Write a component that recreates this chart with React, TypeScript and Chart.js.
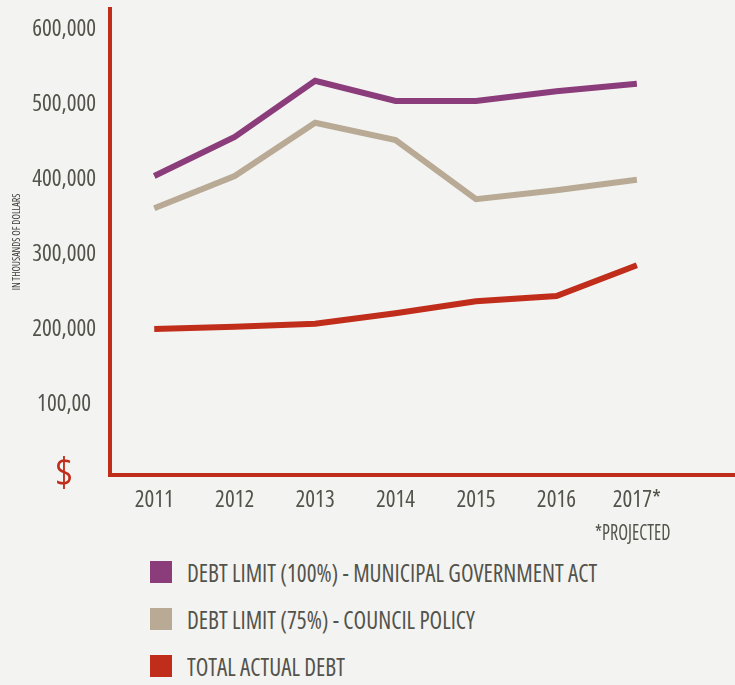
import React, { useEffect, useRef } from "react";
import { Chart, registerables } from "chart.js";

Chart.register(...registerables);

const years = [2011, 2012, 2013, 2014, 2015, 2016, 2017];
const debtLimit100 = [404000, 456000, 531000, 504000, 504000, 517000, 527000];
const debtLimit75 = [361000, 404000, 475000, 452000, 373000, 385000, 399000];
const totalDebt = [200000, 203000, 207000, 221000, 237000, 244000, 285000];
const yTickValues = [100000, 200000, 300000, 400000, 500000, 600000];
const yTickLabels: Record<number, string> = {
  100000: "100,00",
  200000: "200,000",
  300000: "300,000",
  400000: "400,000",
  500000: "500,000",
  600000: "600,000",
};
const seriesNames = [
  "DEBT LIMIT (100%) - MUNICIPAL GOVERNMENT ACT",
  "DEBT LIMIT (75%) - COUNCIL POLICY",
  "TOTAL ACTUAL DEBT",
];
const projectedNote = "*PROJECTED";
const yTitle = "IN THOUSANDS OF DOLLARS";

const PURPLE = "#8b3c7b";
const BEIGE = "#b8aa94";
const RED = "#c12d1b";
const TEXT = "#53534c";
const BG = "#f3f3f1";
const FAMILY = "'Open Sans', sans-serif";
const COND = "500 ultra-condensed";

const Y_MIN = 5333;
const Y_MAX = 626667;

export default function App() {
  const ref = useRef<HTMLCanvasElement | null>(null);

  useEffect(() => {
    if (!ref.current) return;
    const mk = (vals: number[]) => years.map((x, i) => ({ x, y: vals[i] }));
    const chart = new Chart(ref.current, {
      type: "line",
      data: {
        datasets: [
          { label: seriesNames[0], data: mk(debtLimit100), borderColor: PURPLE, backgroundColor: PURPLE },
          { label: seriesNames[1], data: mk(debtLimit75), borderColor: BEIGE, backgroundColor: BEIGE },
          { label: seriesNames[2], data: mk(totalDebt), borderColor: RED, backgroundColor: RED },
        ].map((d) => ({
          ...d,
          borderWidth: 6,
          pointRadius: 0,
          pointHoverRadius: 0,
          tension: 0,
          borderCapStyle: "butt" as const,
          borderJoinStyle: "miter" as const,
          fill: false,
        })),
      },
      options: {
        responsive: false,
        animation: false,
        events: [],
        layout: { padding: { top: 9, left: 0, right: 0, bottom: 0 } },
        plugins: {
          legend: { display: false },
          tooltip: { enabled: false },
        },
        scales: {
          x: {
            type: "linear",
            min: 2010.45,
            max: 2018.22,
            grid: { display: false, drawTicks: false },
            border: { display: true, color: RED, width: 4 },
            afterBuildTicks: (s: any) => {
              s.ticks = years.map((v) => ({ value: v }));
            },
            afterFit: (s: any) => {
              s.height = 75;
              s.paddingLeft = 0;
              s.paddingRight = 0;
            },
            ticks: {
              padding: 12,
              color: TEXT,
              font: { family: FAMILY, size: 23, weight: COND as any },
              maxRotation: 0,
              autoSkip: false,
              callback: (v: any) => (v === 2017 ? "2017*" : String(v)),
            },
          },
          y: {
            type: "linear",
            min: Y_MIN,
            max: Y_MAX,
            grid: { display: false, drawTicks: false },
            border: { display: true, color: RED, width: 4 },
            afterBuildTicks: (s: any) => {
              s.ticks = [{ value: Y_MIN }, ...yTickValues.map((v) => ({ value: v }))];
            },
            afterFit: (s: any) => {
              s.width = 110;
              s.paddingTop = 0;
              s.paddingBottom = 0;
            },
            title: {
              display: true,
              text: yTitle,
              color: "#3c3c36",
              font: { family: FAMILY, size: 10, weight: COND as any },
              padding: { top: 11, bottom: 0 },
            },
            ticks: {
              padding: 14,
              crossAlign: "center",
              autoSkip: false,
              color: (ctx: any) => (ctx.tick && ctx.tick.value < 50000 ? RED : TEXT),
              font: (ctx: any) =>
                ctx.tick && ctx.tick.value < 50000
                  ? { family: FAMILY, size: 40, weight: "400 ultra-condensed" as any }
                  : { family: FAMILY, size: 23, weight: COND as any },
              callback: (v: any) => (v < 50000 ? "$" : yTickLabels[v] ?? String(v)),
            },
          },
        },
      },
    });
    return () => chart.destroy();
  }, []);

  const colors = [PURPLE, BEIGE, RED];

  return (
    <div
      style={{
        position: "absolute",
        left: 0,
        top: 0,
        width: 735,
        height: 685,
        background: BG,
        overflow: "hidden",
      }}
    >
      <canvas ref={ref} width={735} height={550} style={{ display: "block", width: 735, height: 550 }} />
      <div
        style={{
          position: "absolute",
          left: 595,
          top: 518,
          fontFamily: FAMILY,
          fontStretch: "75%",
          fontWeight: 500,
          fontSize: 21,
          lineHeight: "28px",
          color: TEXT,
          whiteSpace: "nowrap",
          transform: "scaleX(0.86)",
          transformOrigin: "left center",
        }}
      >
        {projectedNote}
      </div>
      {seriesNames.map((name, i) => (
        <div
          key={name}
          style={{
            position: "absolute",
            left: 150,
            top: 561 + i * 47,
            height: 22,
            display: "flex",
            alignItems: "center",
          }}
        >
          <div style={{ width: 22, height: 22, background: colors[i], flex: "none" }} />
          <span
            style={{
              marginLeft: 15,
              fontFamily: FAMILY,
              fontStretch: "75%",
              fontWeight: 500,
              fontSize: 26,
              lineHeight: "30px",
              color: TEXT,
              whiteSpace: "nowrap",
              display: "inline-block",
              transform: "scaleX(0.89)",
              transformOrigin: "left center",
            }}
          >
            {name}
          </span>
        </div>
      ))}
    </div>
  );
}
